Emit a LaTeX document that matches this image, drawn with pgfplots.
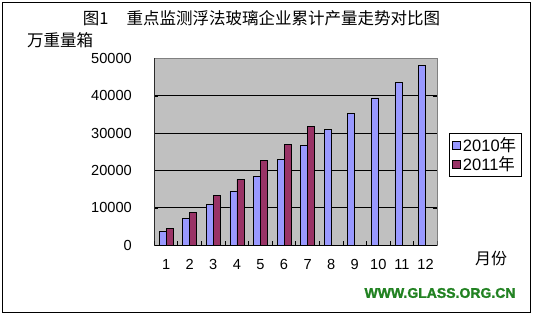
\documentclass[border=0pt]{standalone}
\usepackage{pgfplots}
\pgfplotsset{compat=1.18}
\usepackage{fontspec}
\setmainfont{Liberation Sans}
\newfontfamily\cjk{Noto Sans CJK SC}
\newfontfamily\wmfont[FakeBold=1.6]{Liberation Sans Bold}
\definecolor{c2010}{RGB}{153,153,255}
\definecolor{c2011}{RGB}{153,51,102}
\definecolor{plotbg}{RGB}{192,192,192}
\definecolor{wm}{RGB}{34,130,34}
\begin{document}
\begin{tikzpicture}[x=1bp,y=1bp]
\useasboundingbox (0,0) rectangle (533,316);
\draw[black, line width=1bp] (2.5,3.5) rectangle (530.5,313.5);
\node[font=\fontsize{16.5bp}{18bp}\selectfont\cjk] at (261.5,298) {图1\hspace{1.1em}重点监测浮法玻璃企业累计产量走势对比图};
\node[font=\fontsize{16.5bp}{18bp}\selectfont\cjk] at (60,276) {万重量箱};
\node[font=\fontsize{16bp}{18bp}\selectfont\cjk] at (491,58) {月份};
\node[font=\fontsize{14bp}{16bp}\selectfont\wmfont\bfseries, text=wm] at (440,23) {WWW.GLASS.ORG.CN};
\begin{axis}[
  at={(154.3bp,71bp)}, anchor=south west,
  scale only axis, width=283bp, height=186.7bp,
  ybar=0pt, bar width=7bp,
  xmin=0.5, xmax=12.5, ymin=0, ymax=50000,
  xtick={1,2,3,4,5,6,7,8,9,10,11,12},
  xtick style={draw=none},
  ytick={0,10000,20000,30000,40000,50000},
  ytick style={draw=black},
  tick align=inside, major tick length=4bp,
  scaled y ticks=false,
  /pgf/number format/assume math mode=true,
  y tick label style={/pgf/number format/1000 sep={}},
  tick label style={font=\fontsize{14.6bp}{16bp}\selectfont},
  yticklabel style={xshift=-19bp},
  xticklabel style={yshift=-11bp},
  ymajorgrids, major grid style={black, line width=0.8bp},
  axis background/.style={fill=plotbg},
  axis line style={draw=gray, line width=0.8bp},
  legend style={at={(1.0413,0.60)}, anchor=north west, draw=black, fill=white,
    line width=0.8bp, inner xsep=3bp, inner ysep=2bp, row sep=0bp,
    font=\fontsize{16.5bp}{18bp}\selectfont,
    /tikz/every even column/.append style={column sep=1bp}},
  legend cell align=left,
  legend image code/.code={\draw[#1,draw=black,line width=0.6bp] (0bp,-4bp) rectangle (8bp,4bp);},
]
\addplot[fill=c2010, draw=black, line width=0.6bp] coordinates {
 (1,3740) (2,7130) (3,10960) (4,14360) (5,18370) (6,22900)
 (7,26650) (8,30930) (9,35210) (10,39390) (11,43500) (12,48040)};
\addlegendentry{2010{\cjk 年}}
\addplot[fill=c2011, draw=black, line width=0.6bp] coordinates {
 (1,4460) (2,8740) (3,13290) (4,17570) (5,22730) (6,26920) (7,31740)};
\addlegendentry{2011{\cjk 年}}
\draw[black, line width=0.8bp] (rel axis cs:0,1) -- (rel axis cs:0,0) -- (rel axis cs:1,0);
\pgfplotsinvokeforeach{0.5,1.5,2.5,3.5,4.5,5.5,6.5,7.5,8.5,9.5,10.5,11.5,12.5}{
  \draw[black, line width=0.8bp] (axis cs:#1,0) -- ++(0bp,4bp);
}
\end{axis}
\end{tikzpicture}
\end{document}
